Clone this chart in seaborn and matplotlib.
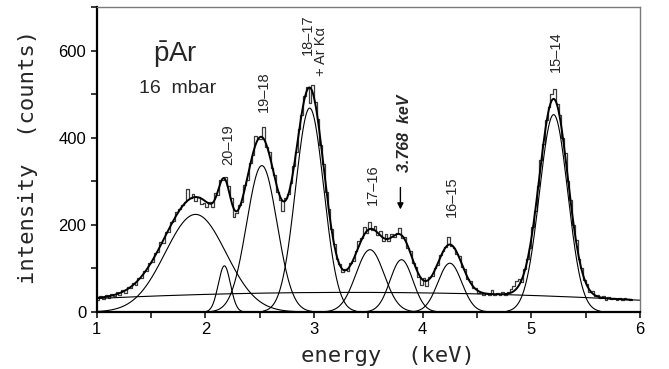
import numpy as np
import pandas as pd
import matplotlib
matplotlib.use("Agg")
import matplotlib.pyplot as plt
import seaborn as sns

# ---------------- data ----------------
bin_start = 1.0        # keV, left edge of first bin
bin_width = 0.025      # keV
counts = [27, 36, 30, 38, 33, 42, 36, 47, 38, 50,
          44, 58, 54, 66, 63, 79, 78, 94, 93, 112,
          114, 135, 137, 160, 158, 183, 184, 207, 208, 229,
          236, 245, 252, 283, 262, 270, 255, 264, 248, 250,
          240, 252, 242, 272, 268, 302, 304, 310, 290, 262,
          219, 228, 246, 252, 292, 304, 342, 360, 405, 398,
          396, 424, 378, 368, 330, 314, 276, 258, 232, 262,
          270, 296, 336, 368, 420, 452, 496, 516, 480, 520,
          482, 444, 384, 340, 276, 236, 190, 156, 122, 110,
          92, 98, 94, 112, 118, 140, 162, 170, 194, 182,
          206, 188, 198, 176, 186, 162, 178, 164, 178, 172,
          182, 192, 170, 172, 148, 140, 112, 104, 80, 62,
          78, 60, 80, 82, 102, 108, 130, 140, 150, 172,
          152, 146, 132, 128, 104, 98, 76, 72, 56, 54,
          44, 47, 40, 44, 38, 50, 40, 44, 38, 46,
          40, 46, 52, 60, 72, 76, 70, 98, 122, 148,
          196, 232, 290, 350, 386, 440, 470, 500, 512, 478,
          452, 400, 364, 300, 256, 200, 166, 122, 100, 74,
          64, 46, 48, 36, 40, 32, 36, 28, 34, 29,
          33, 28, 32, 27, 33, 29, 27]

# fitted Gaussian components (amplitude in counts, centre and sigma in keV)
peak_centers = [1.91, 2.175, 2.52, 2.96, 3.515, 3.805, 4.25, 5.205]
peak_amplitudes = [224, 106, 336, 468, 143, 120, 112, 453]
peak_sigmas = [0.28, 0.056, 0.14, 0.13, 0.13, 0.105, 0.11, 0.13]

# fitted background: quadratic around reference energy
bg_ref = 3.4
bg_coeffs = [45.0, -0.29, -2.55]

peak_labels = ["20\u201319", "19\u201318", "18\u201317", "+ Ar K\u03b1",
               "17\u201316", "16\u201315", "15\u201314"]
label_x = [2.21, 2.54, 2.94, 3.065, 3.545, 4.27, 5.225]
label_y = [337, 459, 590, 542, 246, 218, 551]

x_ticks = [1, 2, 3, 4, 5, 6]
y_ticks = [0, 200, 400, 600]

# ---------------- plot ----------------
sns.set_style("ticks")
plt.rcParams['font.family'] = ['Liberation Sans', 'DejaVu Sans']
plt.rcParams['mathtext.fontset'] = 'custom'
plt.rcParams['mathtext.rm'] = 'Liberation Sans'

fig = plt.figure(figsize=(6.69, 3.69), dpi=100)
ax = fig.add_axes([96.7 / 669, 1 - 312 / 369, (640 - 96.7) / 669, (312 - 7) / 369])

n_bins = len(counts)
centers = bin_start + bin_width * (np.arange(n_bins) + 0.5)
hist_df = pd.DataFrame({"energy": centers, "counts": counts})
bin_end = bin_start + bin_width * n_bins
sns.histplot(data=hist_df, x="energy", weights="counts", binwidth=bin_width,
             binrange=(bin_start, bin_end), element="step", fill=False,
             color="#3c3c3c", linewidth=0.9, ax=ax)


def background(x):
    d = x - bg_ref
    return bg_coeffs[0] + bg_coeffs[1] * d + bg_coeffs[2] * d ** 2


def gauss(x, a, m, s):
    return a * np.exp(-0.5 * ((x - m) / s) ** 2)


xs_bg = np.linspace(1.0, 6.0, 400)
sns.lineplot(x=xs_bg, y=background(xs_bg), color="black", linewidth=0.8,
             estimator=None, sort=False, ax=ax)

for a, m, s in zip(peak_amplitudes, peak_centers, peak_sigmas):
    lo, hi = max(1.0, m - 3.3 * s), min(6.0, m + 3.3 * s)
    xs = np.linspace(lo, hi, 300)
    sns.lineplot(x=xs, y=gauss(xs, a, m, s), color="black", linewidth=0.8,
                 estimator=None, sort=False, ax=ax)

xs_tot = np.linspace(1.0, bin_end, 1500)
total = background(xs_tot)
for a, m, s in zip(peak_amplitudes, peak_centers, peak_sigmas):
    total = total + gauss(xs_tot, a, m, s)
sns.lineplot(x=xs_tot, y=total, color="black", linewidth=1.4,
             estimator=None, sort=False, ax=ax)

ax.set_xlim(1, 6)
ax.set_ylim(0, 700)
ax.set_xticks(x_ticks)
ax.set_xticks([1.5, 2.5, 3.5, 4.5, 5.5], minor=True)
ax.set_yticks(y_ticks)
ax.set_yticks([100, 300, 500, 700], minor=True)
ax.set_xticklabels([str(t) for t in x_ticks])
ax.set_yticklabels([str(t) for t in y_ticks])
ax.tick_params(axis="both", which="both", direction="out", length=4.5, width=1.1,
               labelsize=12, colors="black", pad=3)
ax.set_xlabel("")
ax.set_ylabel("")

for side in ["left", "bottom"]:
    ax.spines[side].set_linewidth(1.6)
    ax.spines[side].set_color("black")
for side in ["top", "right"]:
    ax.spines[side].set_linewidth(1.0)
    ax.spines[side].set_color("#7a7a7a")
    ax.spines[side].set_visible(True)

fig.text(388 / 669, 1 - 356 / 369, "energy  (keV)", ha="center", va="center",
         fontsize=16, family=["DejaVu Sans Mono"])
fig.text(28 / 669, 1 - 157 / 369, "intensity  (counts)", ha="center", va="center",
         rotation=90, fontsize=16, family=["DejaVu Sans Mono"])

for lab, lx, ly in zip(peak_labels, label_x, label_y):
    ax.text(lx, ly, lab, rotation=90, ha="center", va="bottom", fontsize=10.5)

ax.text(3.835, 322, "3.768  keV", rotation=90, ha="center", va="bottom",
        fontsize=11.5, style="italic", fontweight="bold")
ax.annotate("", xy=(3.795, 229), xytext=(3.795, 292),
            arrowprops=dict(arrowstyle="-|>", color="black", lw=1.0,
                            mutation_scale=9))

ax.text(1.52, 590, r"$\mathrm{\bar{p}Ar}$", ha="left", va="center", fontsize=20)
ax.text(1.39, 512, "16  mbar", ha="left", va="center", fontsize=14)

fig.savefig("out.png", dpi=100)
